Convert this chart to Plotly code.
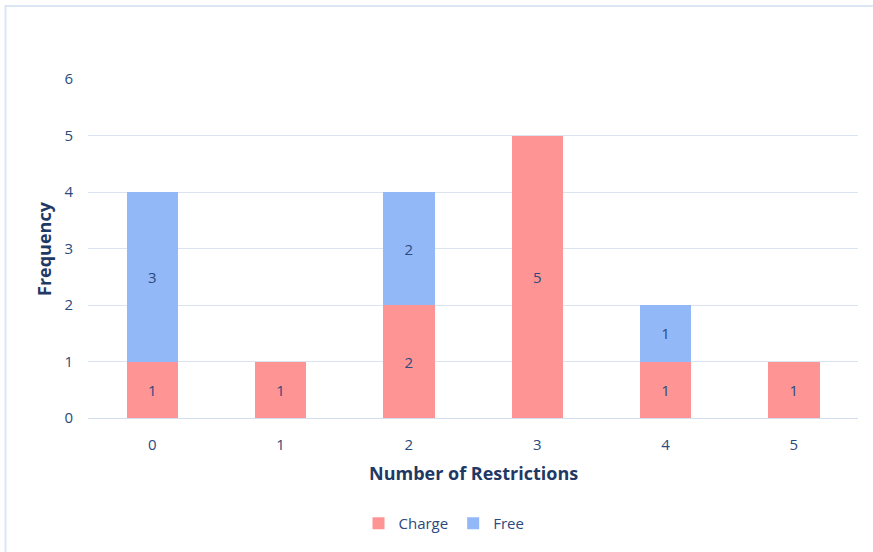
import plotly.graph_objects as go

categories = [0, 1, 2, 3, 4, 5]
charge = [1, 1, 2, 5, 1, 1]
free = [3, 0, 2, 0, 1, 0]
y_ticks = [0, 1, 2, 3, 4, 5, 6]

text_col = "#2B4A7E"
title_col = "#1F3864"
font_family = "Open Sans"

def labels(vals):
    return [str(v) if v else "" for v in vals]

fig = go.Figure()
fig.add_trace(go.Bar(x=categories, y=charge, name="Charge", marker_color="#FF9494",
                     marker_line_width=0, width=0.4, text=labels(charge),
                     textposition="inside", insidetextanchor="middle",
                     textfont=dict(color=text_col, size=15, family=font_family)))
fig.add_trace(go.Bar(x=categories, y=free, name="Free", marker_color="#93B8F8",
                     marker_line_width=0, width=0.4, text=labels(free),
                     textposition="inside", insidetextanchor="middle",
                     textfont=dict(color=text_col, size=15, family=font_family)))

L, R, T, B = 88, 15, 79, 132
W, H = 873, 552
pw, ph = W - L - R, H - T - B

def px(x):
    return (x - L) / pw

def py(y):
    return (H - B - y) / ph

fig.update_layout(
    barmode="stack",
    width=W, height=H,
    margin=dict(l=L, r=R, t=T, b=B),
    plot_bgcolor="white", paper_bgcolor="white",
    font=dict(family=font_family, color=text_col, size=15),
    showlegend=True,
    legend=dict(orientation="h", x=px(444), xanchor="center", y=py(526), yanchor="middle",
                font=dict(size=15, color=text_col), traceorder="normal",
                itemwidth=30, itemsizing="constant"),
    xaxis=dict(tickmode="array", tickvals=categories, ticktext=[str(c) for c in categories],
               range=[-0.5, 5.5], showgrid=False, showline=False, zeroline=False,
               ticks="", tickfont=dict(size=15, color=text_col), ticklabelstandoff=16),
    yaxis=dict(tickmode="array", tickvals=y_ticks, range=[0, 6], showgrid=True,
               gridcolor="#DAE4F1", gridwidth=1, zeroline=True, zerolinecolor="#D3DEEE",
               zerolinewidth=1, showline=False, ticks="", ticklabelstandoff=14,
               tickfont=dict(size=15, color=text_col)),
    annotations=[
        dict(text="<b>Number of Restrictions</b>", x=px(473), y=py(475), xref="paper", yref="paper",
             showarrow=False, xanchor="center", yanchor="middle",
             font=dict(size=18, color=title_col, family=font_family)),
        dict(text="<b>Frequency</b>", x=px(44), y=py(250), xref="paper", yref="paper",
             showarrow=False, xanchor="center", yanchor="middle", textangle=-90,
             font=dict(size=18, color=title_col, family=font_family)),
    ],
    shapes=[
        dict(type="rect", xref="paper", yref="paper", x0=px(5.5), x1=px(880), y0=py(560), y1=py(5.5),
             line=dict(color="#DCE6F2", width=2), fillcolor="rgba(0,0,0,0)", layer="below"),
    ],
)

fig.write_html("out.html")
